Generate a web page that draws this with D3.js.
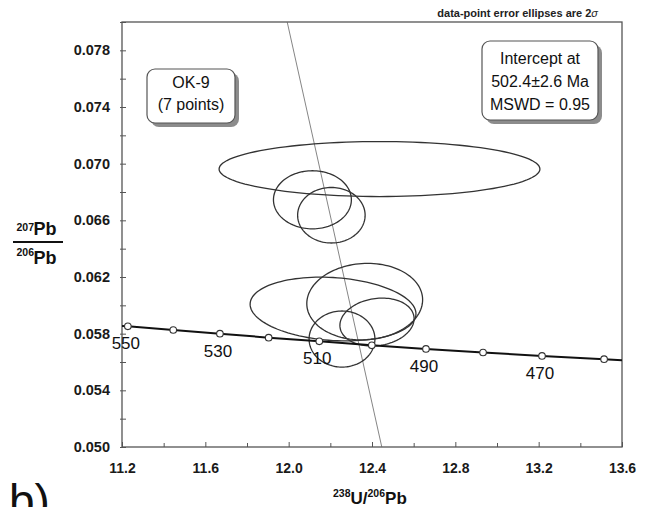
<!DOCTYPE html>
<html>
<head>
<meta charset="utf-8">
<script src="https://cdn.jsdelivr.net/npm/d3@7"></script>
<style>
body { margin: 0; background: #fff; }
text { font-family: "Liberation Sans", Arial, Helvetica, sans-serif; }
</style>
</head>
<body>
<svg id="chart" width="646" height="507"></svg>
<script>
// axis ticks
var xTicks = [11.2, 11.6, 12.0, 12.4, 12.8, 13.2, 13.6];
var xMinor = [11.4, 11.8, 12.2, 12.6, 13.0, 13.4];
var yTicks = [0.050, 0.054, 0.058, 0.062, 0.066, 0.070, 0.074, 0.078];
var yMinor = [0.052, 0.056, 0.060, 0.064, 0.068, 0.072, 0.076, 0.080];

// concordia (Tera-Wasserburg), 10 Ma marks
var concAge = [550, 540, 530, 520, 510, 500, 490, 480, 470, 460];
var concX = [11.228, 11.446, 11.670, 11.904, 12.147, 12.399, 12.659, 12.933, 13.216, 13.514];
var concY = [0.05852, 0.05826, 0.05800, 0.05772, 0.05746, 0.05718, 0.05692, 0.05667, 0.05643, 0.05620];
var labelAges = [550, 530, 510, 490, 470];
// curve drawn to the frame edges
var curveX = [11.2].concat(concX, [13.6]);
var curveY = [0.05855].concat(concY, [0.05613]);

// regression line through the intercept
var lineX = [11.993, 12.447];
var lineY = [0.080, 0.050];

// data-point error ellipses (2 sigma)
var ellX   = [12.436, 12.114, 12.205, 12.213, 12.365, 12.256, 12.424];
var ellY   = [0.06962, 0.06745, 0.06636, 0.05974, 0.06026, 0.05762, 0.05882];
var ellSx  = [0.770, 0.187, 0.162, 0.398, 0.278, 0.158, 0.178];
var ellSy  = [0.00194, 0.00205, 0.00196, 0.00225, 0.00270, 0.00198, 0.00169];
var ellRho = [0.0, 0.0, 0.0, -0.15, 0.05, 0.0, 0.14];

var svg = d3.select("#chart");
var x = d3.scaleLinear().domain([11.2, 13.6]).range([122, 622]);
var y = d3.scaleLinear().domain([0.050, 0.080]).range([447, 22]);

svg.append("defs").append("clipPath").attr("id", "plotclip")
    .append("rect").attr("x", 122).attr("y", 22).attr("width", 500).attr("height", 425);

// axes
function styleAxis(g) {
    g.select(".domain").remove();
    g.selectAll(".tick line").attr("stroke", "#555").attr("stroke-width", 1);
    g.selectAll(".tick text").attr("fill", "#1a1a1a").attr("font-weight", "bold")
        .attr("font-family", "Liberation Sans, Arial, sans-serif");
}

svg.append("g").attr("transform", "translate(0,447)")
    .call(d3.axisBottom(x).tickValues(xTicks).tickFormat(d3.format(".1f"))
        .tickSizeInner(-5).tickSizeOuter(0).tickPadding(16))
    .call(styleAxis)
    .call(function(g) { g.selectAll(".tick text").attr("font-size", 14); });

svg.append("g").attr("transform", "translate(0,447)")
    .call(d3.axisBottom(x).tickValues(xMinor).tickFormat("").tickSizeInner(-4).tickSizeOuter(0))
    .call(styleAxis);

svg.append("g").attr("transform", "translate(122,0)")
    .call(d3.axisLeft(y).tickValues(yTicks).tickFormat(d3.format(".3f"))
        .tickSizeInner(-4).tickSizeOuter(0).tickPadding(12))
    .call(styleAxis)
    .call(function(g) {
        g.selectAll(".tick text").attr("font-size", 14.5);
        g.selectAll(".tick line").attr("x1", -2);
    });

svg.append("g").attr("transform", "translate(122,0)")
    .call(d3.axisLeft(y).tickValues(yMinor).tickFormat("").tickSizeInner(-4).tickSizeOuter(0))
    .call(styleAxis)
    .call(function(g) { g.selectAll(".tick line").attr("x1", -2); });

// frame
svg.append("rect").attr("x", 122).attr("y", 22).attr("width", 500).attr("height", 425)
    .attr("fill", "none").attr("stroke", "#555").attr("stroke-width", 1.3);

var plot = svg.append("g").attr("clip-path", "url(#plotclip)");

// regression line
plot.append("line")
    .attr("x1", x(lineX[0])).attr("y1", y(lineY[0]))
    .attr("x2", x(lineX[1])).attr("y2", y(lineY[1]))
    .attr("stroke", "#666").attr("stroke-width", 0.8);

// ellipses
var ellLine = d3.line().curve(d3.curveLinearClosed);
for (var i = 0; i < ellX.length; i++) {
    var pts = [];
    var r = ellRho[i], s = Math.sqrt(1 - r * r);
    for (var k = 0; k < 120; k++) {
        var t = k / 120 * 2 * Math.PI;
        pts.push([x(ellX[i] + ellSx[i] * Math.cos(t)),
                  y(ellY[i] + ellSy[i] * (r * Math.cos(t) + s * Math.sin(t)))]);
    }
    plot.append("path").attr("d", ellLine(pts))
        .attr("fill", "none").attr("stroke", "#333").attr("stroke-width", 1.3);
}

// concordia
plot.append("path")
    .attr("d", d3.line()(curveX.map(function(v, i) { return [x(v), y(curveY[i])]; })))
    .attr("fill", "none").attr("stroke", "#111").attr("stroke-width", 2);

plot.selectAll("circle.age").data(concAge).enter().append("circle")
    .attr("class", "age")
    .attr("cx", function(d, i) { return x(concX[i]); })
    .attr("cy", function(d, i) { return y(concY[i]); })
    .attr("r", 3.3)
    .attr("fill", "#fff").attr("stroke", "#333").attr("stroke-width", 1.1);

svg.selectAll("text.age").data(labelAges).enter().append("text")
    .attr("class", "age")
    .attr("x", function(d) { return x(concX[concAge.indexOf(d)]) - 2; })
    .attr("y", function(d) { return y(concY[concAge.indexOf(d)]) + 23; })
    .attr("text-anchor", "middle").attr("font-size", 17).attr("fill", "#111")
    .text(function(d) { return d; });

// annotation boxes
function box(bx, by, bw, bh, lines, baselines) {
    var g = svg.append("g");
    g.append("rect").attr("x", bx + 4).attr("y", by + 4).attr("width", bw).attr("height", bh)
        .attr("rx", 8).attr("fill", "#8c8c8c");
    g.append("rect").attr("x", bx).attr("y", by).attr("width", bw).attr("height", bh)
        .attr("rx", 8).attr("fill", "#fff").attr("stroke", "#555").attr("stroke-width", 1.2);
    lines.forEach(function(l, i) {
        g.append("text").attr("x", bx + bw / 2).attr("y", baselines[i])
            .attr("text-anchor", "middle").attr("font-size", 16).attr("fill", "#111").text(l);
    });
}
box(147, 69, 88, 54, ["OK-9", "(7 points)"], [88, 110]);
box(482, 41, 116, 79, ["Intercept at", "502.4\u00b12.6 Ma", "MSWD = 0.95"], [64, 87, 110]);

// note at top
var note = svg.append("text").attr("x", 598).attr("y", 17).attr("text-anchor", "end")
    .attr("font-size", 11).attr("font-weight", "bold").attr("fill", "#222");
note.append("tspan").text("data-point error ellipses are 2");
note.append("tspan").attr("font-weight", "normal").attr("font-style", "italic").text("\u03c3");

// y axis title: 207Pb / 206Pb
svg.append("text").attr("x", 16.5).attr("y", 230.5).attr("font-size", 10.5).attr("font-weight", "bold").attr("fill", "#111").text("207");
svg.append("text").attr("x", 33.5).attr("y", 235).attr("font-size", 18).attr("font-weight", "bold").attr("fill", "#111").text("Pb");
svg.append("line").attr("x1", 13).attr("x2", 63).attr("y1", 242).attr("y2", 242).attr("stroke", "#111").attr("stroke-width", 2);
svg.append("text").attr("x", 16.5).attr("y", 256).attr("font-size", 10.5).attr("font-weight", "bold").attr("fill", "#111").text("206");
svg.append("text").attr("x", 33.5).attr("y", 263.5).attr("font-size", 18).attr("font-weight", "bold").attr("fill", "#111").text("Pb");

// x axis title: 238U/206Pb
var xt = svg.append("text").attr("x", 333).attr("y", 503.5).attr("font-weight", "bold").attr("fill", "#111");
xt.append("tspan").attr("font-size", 10.5).attr("dy", -7).text("238");
xt.append("tspan").attr("font-size", 17).attr("dy", 7).text("U/");
xt.append("tspan").attr("font-size", 10.5).attr("dy", -7).text("206");
xt.append("tspan").attr("font-size", 17).attr("dy", 7).text("Pb");

// panel letter (cut by the bottom edge, as in the source)
svg.append("text").attr("x", 9).attr("y", 517).attr("font-size", 46).attr("fill", "#111").text("b)");
</script>
</body>
</html>
